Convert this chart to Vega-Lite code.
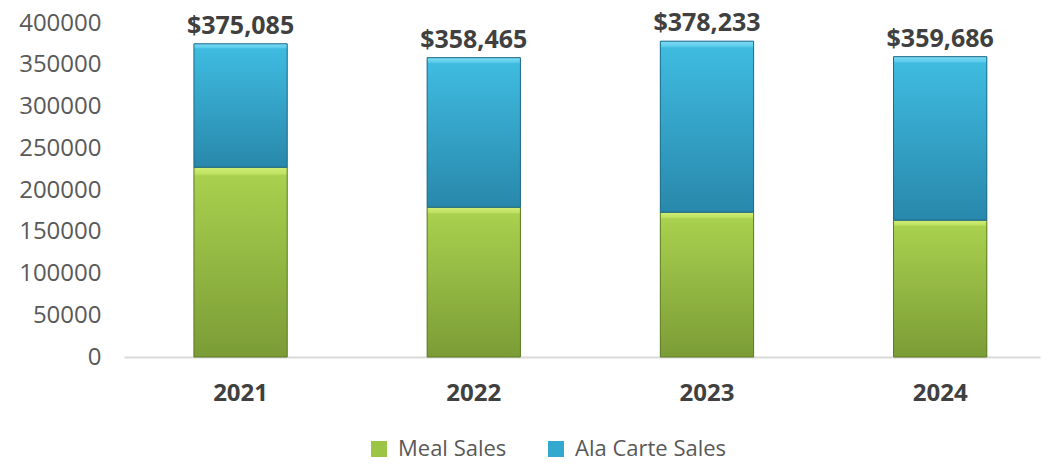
{
  "$schema": "https://vega.github.io/schema/vega-lite/v6.json",
  "width": 916,
  "height": 334,
  "autosize": {"type": "none"},
  "padding": {"left": 124, "top": 23, "right": 9, "bottom": 109},
  "background": "white",
  "config": {"view": {"stroke": null}, "font": "Open Sans"},
  "data": {
    "values": [
      {"year": "2021", "series": "Meal Sales", "order": 1, "value": 227300},
      {"year": "2021", "series": "Ala Carte Sales", "order": 2, "value": 147785},
      {"year": "2022", "series": "Meal Sales", "order": 1, "value": 179400},
      {"year": "2022", "series": "Ala Carte Sales", "order": 2, "value": 179065},
      {"year": "2023", "series": "Meal Sales", "order": 1, "value": 173400},
      {"year": "2023", "series": "Ala Carte Sales", "order": 2, "value": 204833},
      {"year": "2024", "series": "Meal Sales", "order": 1, "value": 163900},
      {"year": "2024", "series": "Ala Carte Sales", "order": 2, "value": 195786}
    ]
  },
  "encoding": {
    "x": {
      "field": "year",
      "type": "nominal",
      "scale": {"paddingInner": 0.6, "paddingOuter": 0.264, "align": 0.568},
      "axis": {
        "title": null,
        "labelAngle": 0,
        "labelFontSize": 24,
        "labelFontWeight": "bold",
        "labelColor": "#404040",
        "labelPadding": 24,
        "ticks": false,
        "domainColor": "#d9d9d9",
        "domainWidth": 2
      }
    }
  },
  "layer": [
    {
      "mark": {"type": "bar"},
      "encoding": {
        "y": {
          "field": "value",
          "type": "quantitative",
          "stack": "zero",
          "scale": {"domain": [0, 400000], "nice": false},
          "axis": {
            "title": null,
            "values": [0, 50000, 100000, 150000, 200000, 250000, 300000, 350000, 400000],
            "format": "d",
            "labelFontSize": 24,
            "labelColor": "#595959",
            "labelPadding": 23,
            "ticks": false,
            "domain": false,
            "grid": false
          }
        },
        "color": {
          "field": "series",
          "type": "nominal",
          "scale": {"domain": ["Meal Sales", "Ala Carte Sales"], "range": ["#9cc445", "#34a9d0"]},
          "legend": {
            "title": null,
            "orient": "none",
            "direction": "horizontal",
            "legendX": 244,
            "legendY": 415,
            "symbolType": "square",
            "symbolSize": 256,
            "symbolStrokeWidth": 0,
            "labelFontSize": 22,
            "labelColor": "#595959",
            "labelOffset": 8,
            "columnPadding": 38
          }
        },
        "order": {"field": "order", "type": "quantitative"}
      }
    },
    {
      "transform": [
        {"stack": "value", "groupby": ["year"], "sort": [{"field": "order"}], "as": ["v0", "v1"]},
        {"filter": "datum.series === 'Meal Sales'"}
      ],
      "mark": {
        "type": "bar",
        "stroke": "#5d7a25",
        "strokeWidth": 1,
        "fill": {
          "gradient": "linear", "x1": 0, "y1": 0, "x2": 0, "y2": 1,
          "stops": [
            {"offset": 0, "color": "#d2ee78"},
            {"offset": 0.035, "color": "#bfe262"},
            {"offset": 0.045, "color": "#a9d04e"},
            {"offset": 1, "color": "#7b9c36"}
          ]
        }
      },
      "encoding": {
        "y": {"field": "v1", "type": "quantitative", "scale": {"domain": [0, 400000], "nice": false}},
        "y2": {"field": "v0"}
      }
    },
    {
      "transform": [
        {"stack": "value", "groupby": ["year"], "sort": [{"field": "order"}], "as": ["v0", "v1"]},
        {"filter": "datum.series === 'Ala Carte Sales'"}
      ],
      "mark": {
        "type": "bar",
        "stroke": "#1d6a88",
        "strokeWidth": 1,
        "fill": {
          "gradient": "linear", "x1": 0, "y1": 0, "x2": 0, "y2": 1,
          "stops": [
            {"offset": 0, "color": "#7fdcf5"},
            {"offset": 0.03, "color": "#5cccec"},
            {"offset": 0.04, "color": "#3fbbe0"},
            {"offset": 1, "color": "#2888ab"}
          ]
        }
      },
      "encoding": {
        "y": {"field": "v1", "type": "quantitative", "scale": {"domain": [0, 400000], "nice": false}},
        "y2": {"field": "v0"}
      }
    },
    {
      "transform": [
        {"aggregate": [{"op": "sum", "field": "value", "as": "total"}], "groupby": ["year"]}
      ],
      "mark": {
        "type": "text",
        "fontSize": 25,
        "fontWeight": "bold",
        "color": "#404040",
        "baseline": "alphabetic",
        "dy": -10
      },
      "encoding": {
        "y": {"field": "total", "type": "quantitative", "scale": {"domain": [0, 400000], "nice": false}},
        "text": {"field": "total", "type": "quantitative", "format": "$,.0f"}
      }
    }
  ]
}
